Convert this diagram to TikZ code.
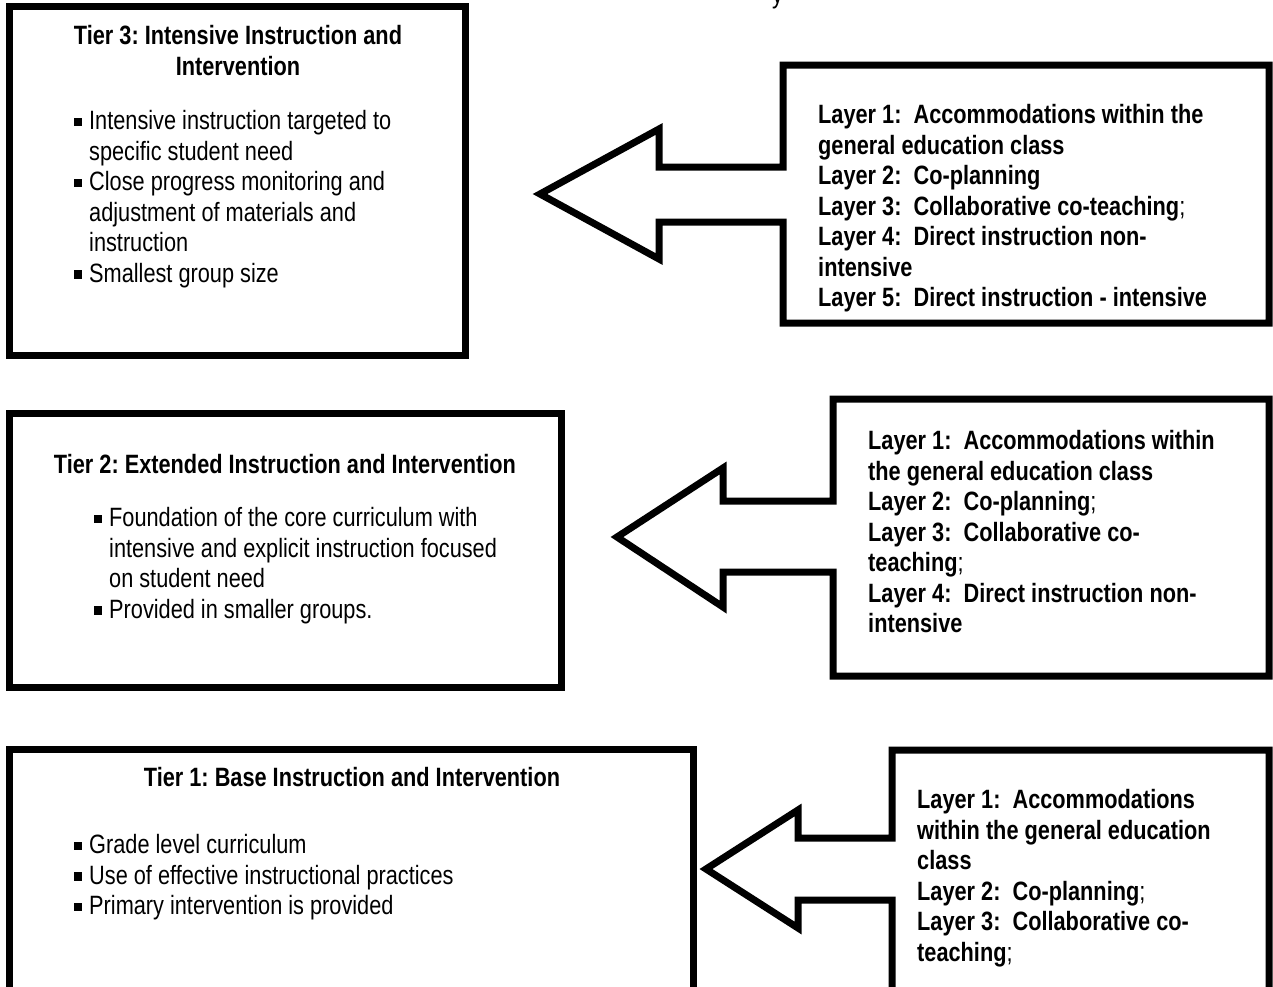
\documentclass[tikz,border=0pt]{standalone}
\usepackage{fontspec}
\setmainfont{Liberation Sans}[FakeStretch=0.82]
\newcommand\bodyfont{\fontsize{26.5}{30.5}\selectfont\frenchspacing}
\newcommand\tbul{\makebox[15pt][l]{\rule[3.5pt]{7.5pt}{8.5pt}}}
\newcommand\tind{\hspace*{15pt}}
\tikzset{
  frame/.style={draw, line width=7pt, rectangle, inner sep=0pt, outer sep=0pt, anchor=north west},
  outline/.style={draw, line width=7pt, line join=miter},
  ttl/.style={font=\bodyfont\bfseries, align=center, inner sep=0pt, anchor=north},
  blt/.style={font=\bodyfont, align=left, inner sep=0pt, anchor=north west},
  lyr/.style={font=\bodyfont\bfseries, align=left, inner sep=0pt, anchor=north west},
}
\begin{document}
\begin{tikzpicture}[x=1pt, y=-1pt]
\useasboundingbox (0,0) rectangle (1273,986);

% fragment of a cut-off line at the top edge
\node[font=\bodyfont, inner sep=0pt, anchor=base west] (topfrag) at (772,3) {y};

% ---------- Tier 3 ----------
\node[frame, minimum width=456pt, minimum height=349pt] (T3) at (9,6) {};
\node[ttl] (T3t) at (238,25.5) {Tier 3: Intensive Instruction and\\Intervention};
\node[blt] (T3b) at (74,110.5) {\tbul Intensive instruction targeted to\\
\tind specific student need\\
\tbul Close progress monitoring and\\
\tind adjustment of materials and\\
\tind instruction\\
\tbul Smallest group size};

\node[inner sep=0pt, outer sep=0pt, minimum width=486pt, minimum height=258pt, anchor=north west] (R3) at (783,65) {};
\draw[outline] (783,167) -- (659,167) -- (659,129) -- (540,194) -- (659,259) -- (659,222) -- (783,222)
  -- (783,323) -- (1269,323) -- (1269,65) -- (783,65) -- cycle;
\node[lyr] (R3t) at (818,104.5) {Layer 1:\ \ Accommodations within the\\
general education class\\
Layer 2:\ \ Co-planning\\
Layer 3:\ \ Collaborative co-teaching{\mdseries;}\\
Layer 4:\ \ Direct instruction non-\\
intensive\\
Layer 5:\ \ Direct instruction - intensive};

% ---------- Tier 2 ----------
\node[frame, minimum width=552pt, minimum height=274pt] (T2) at (9,413) {};
\node[ttl] (T2t) at (285,454.5) {Tier 2: Extended Instruction and Intervention};
\node[blt] (T2b) at (94,507.5) {\tbul Foundation of the core curriculum with\\
\tind intensive and explicit instruction focused\\
\tind on student need\\
\tbul Provided in smaller groups.};

\node[inner sep=0pt, outer sep=0pt, minimum width=436pt, minimum height=277pt, anchor=north west] (R2) at (833,399) {};
\draw[outline] (833,501) -- (723,501) -- (723,468) -- (617,537) -- (723,607) -- (723,572) -- (833,572)
  -- (833,676) -- (1269,676) -- (1269,399) -- (833,399) -- cycle;
\node[lyr] (R2t) at (868,430.5) {Layer 1:\ \ Accommodations within\\
the general education class\\
Layer 2:\ \ Co-planning{\mdseries;}\\
Layer 3:\ \ Collaborative co-\\
teaching{\mdseries;}\\
Layer 4:\ \ Direct instruction non-\\
intensive};

% ---------- Tier 1 ----------
\node[frame, minimum width=684pt, minimum height=260pt] (T1) at (9,749) {};
\node[ttl] (T1t) at (352,767.5) {Tier 1: Base Instruction and Intervention};
\node[blt] (T1b) at (74,834.5) {\tbul Grade level curriculum\\
\tbul Use of effective instructional practices\\
\tbul Primary intervention is provided};

\node[inner sep=0pt, outer sep=0pt, minimum width=377pt, minimum height=260pt, anchor=north west] (R1) at (892,750) {};
\draw[outline] (892,838) -- (798,838) -- (798,810) -- (706,869) -- (798,928) -- (798,900) -- (892,900)
  -- (892,1010) -- (1269,1010) -- (1269,750) -- (892,750) -- cycle;
\node[lyr] (R1t) at (917,789.5) {Layer 1:\ \ Accommodations\\
within the general education\\
class\\
Layer 2:\ \ Co-planning{\mdseries;}\\
Layer 3:\ \ Collaborative co-\\
teaching{\mdseries;}};
\end{tikzpicture}
\end{document}
